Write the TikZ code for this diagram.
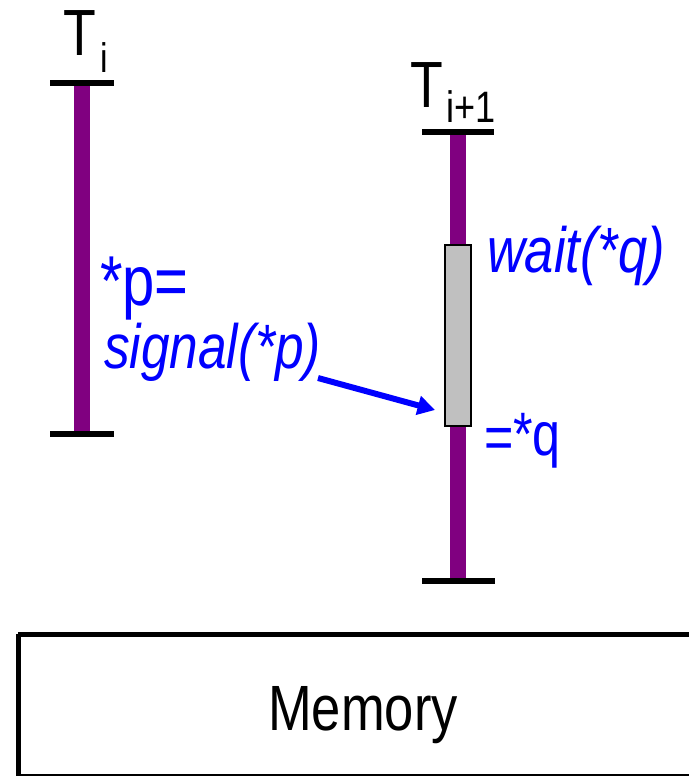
\documentclass[tikz,border=0pt]{standalone}
\usepackage{fontspec}
\setmainfont{Liberation Sans}[FakeStretch=0.82]
\usetikzlibrary{arrows.meta}
\definecolor{thread}{HTML}{800080}
\definecolor{sigblue}{HTML}{0000FF}
\definecolor{waitgray}{HTML}{C0C0C0}
\tikzset{
  thr/.style={draw=thread, line width=12pt},
  tbar/.style={draw=black, line width=4.5pt},
  txt/.style={inner sep=0pt, outer sep=0pt, anchor=base west},
  bluetxt/.style={txt, text=sigblue},
  waitbox/.style={draw=black, fill=waitgray, line width=1.5pt, inner sep=0pt,
                  minimum width=19pt, minimum height=135.5pt},
  sigarrow/.style={draw=sigblue, line width=4.5pt,
                   -{Triangle[length=13pt, width=14pt]}},
}
\begin{document}
\begin{tikzpicture}[x=0.75pt, y=-0.75pt]
\useasboundingbox (0,0) rectangle (689,776);

% thread T_i
\node[txt] (ti) at (64,55) {\fontsize{49}{49}\selectfont T\kern2.5pt\raisebox{-12.75pt}{\fontsize{31}{31}\selectfont i}};
\draw[thr] (82,83) -- (82,434);
\draw[tbar] (50,83) -- (114,83);
\draw[tbar] (50,434) -- (114,434);

% thread T_{i+1}
\node[txt] (tii) at (410,107) {\fontsize{49}{49}\selectfont T\kern2.5pt\raisebox{-11.25pt}{\fontsize{33}{33}\selectfont i+1}};
\node[waitbox] (wb) at (458,335.5) {};
\draw[thr] (458,132) -- (wb.north);
\draw[thr] (wb.south) -- (458,583);
\node[waitbox] at (wb) {};
\draw[tbar] (422,132) -- (494,132);
\draw[tbar] (422,581) -- (495,581);

% labels
\node[bluetxt] (pst) at (100,305) {\fontsize{53}{53}\selectfont *p=};
\node[bluetxt] (sig) at (104,368) {\fontsize{47}{47}\selectfont\itshape signal(*p)};
\node[bluetxt] (wt) at (487,272) {\fontsize{48}{48}\selectfont\itshape wait(*q)};
\node[bluetxt] (eq) at (484,455) {\fontsize{46}{46}\selectfont \raisebox{-2.5pt}{=}*q};

% arrow
\coordinate (a1) at (318,378);
\coordinate (a2) at (435,410);
\draw[sigarrow] (a1) -- (a2);

% memory
\draw[line width=3.75pt] (18,634) -- (730,634) (18,634) -- (18,778) (18,776) -- (730,776);
\node[txt, anchor=base] (mem) at (363,730) {\fontsize{48}{48}\selectfont Memory};
\end{tikzpicture}
\end{document}
